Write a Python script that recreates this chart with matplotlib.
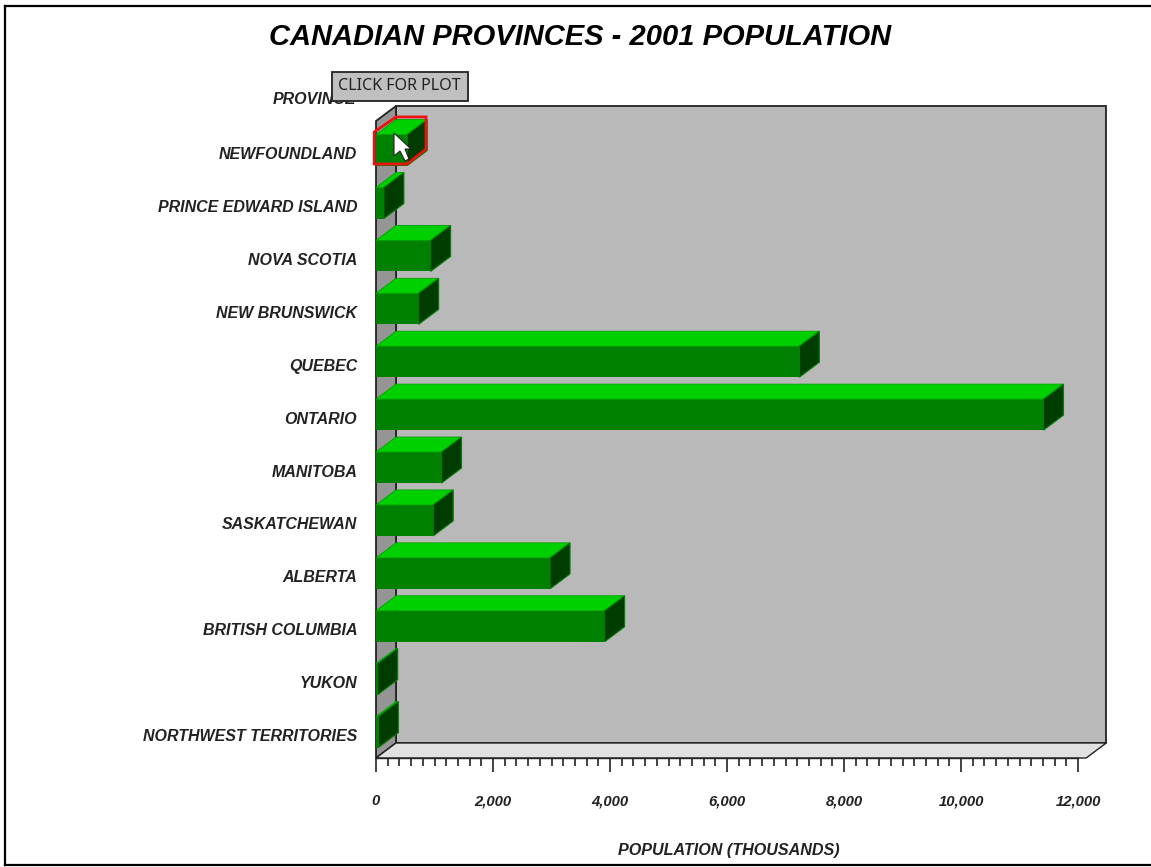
import matplotlib
matplotlib.use('Agg')
import matplotlib.pyplot as plt
from matplotlib.patches import Polygon, Rectangle
from matplotlib.lines import Line2D
from matplotlib.transforms import ScaledTranslation

provinces = ['NEWFOUNDLAND', 'PRINCE EDWARD ISLAND', 'NOVA SCOTIA', 'NEW BRUNSWICK', 'QUEBEC', 'ONTARIO',
             'MANITOBA', 'SASKATCHEWAN', 'ALBERTA', 'BRITISH COLUMBIA', 'YUKON', 'NORTHWEST TERRITORIES']
population = [533, 135, 934, 729, 7237, 11410, 1120, 978, 2975, 3908, 29, 40]
x_ticks = [0, 2000, 4000, 6000, 8000, 10000, 12000]
x_minor = list(range(0, 12200, 200))

W, H = 1151, 867
plt.rcParams['font.family'] = ['Liberation Sans', 'DejaVu Sans']

fig = plt.figure(figsize=(W / 100, H / 100), dpi=100)
ax = fig.add_axes([376 / W, (H - 758) / H, 702 / W, 637 / H])
ax.set_xlim(0, 12000)
ax.set_ylim(11.49, -0.55)

# depth of the fake 3d box, in data units
dx = 20 / (702 / 12000)
dy = 15 / 52.9
bar_h = 31 / 52.9
x_end = 12140
y_top, y_bot = -0.55, 11.49


def poly(pts, face, edge='none', lw=0.0, z=2):
    ax.add_patch(Polygon(pts, closed=True, facecolor=face, edgecolor=edge, linewidth=lw, zorder=z, clip_on=False))


# back wall, left wall, floor
poly([(dx, y_top - dy), (x_end + dx, y_top - dy), (x_end + dx, y_bot - dy), (dx, y_bot - dy)], '#b9b9b9', '#222222', 1.3, 1)
poly([(0, y_top), (dx, y_top - dy), (dx, y_bot - dy), (0, y_bot)], '#959595', '#222222', 1.3, 1)
poly([(0, y_bot), (dx, y_bot - dy), (x_end + dx, y_bot - dy), (x_end, y_bot)], '#e1e1e1', '#222222', 1.0, 1)

for i, v in enumerate(population):
    t, b = i - bar_h / 2, i + bar_h / 2
    ax.barh(i, v, height=bar_h, color='#008000', zorder=3)
    poly([(0, t), (dx, t - dy), (v + dx, t - dy), (v, t)], '#00d000', '#00a000', 0.6, 3)
    poly([(v, t), (v + dx, t - dy), (v + dx, b - dy), (v, b)], '#003c00', '#008000', 0.8, 3)

# red highlight round the first bar
v0 = population[0]
t0, b0 = -bar_h / 2, bar_h / 2
ax.add_patch(Polygon([(-30, t0 - 0.05), (dx, t0 - dy - 0.05), (v0 + dx - 20, t0 - dy - 0.05), (v0 + dx - 20, b0 - dy - 0.03),
                      (v0, b0 - 0.03), (-30, b0 - 0.03)], closed=True, fill=False, edgecolor='#ee1111', linewidth=2,
                     zorder=4, clip_on=False))

for s in ['top', 'left', 'right']:
    ax.spines[s].set_visible(False)
ax.spines['bottom'].set_color('#222222')
ax.spines['bottom'].set_linewidth(1.0)
ax.set_facecolor('none')

ax.set_yticks(range(len(provinces)))
ax.set_yticklabels(provinces, fontsize=11.5, fontweight='bold', fontstyle='italic', color='#222222')
ax.tick_params(axis='y', length=0, pad=13.5)
down = ScaledTranslation(0, -3 / 100, fig.dpi_scale_trans)
for lab in ax.get_yticklabels():
    lab.set_transform(lab.get_transform() + down)

ax.set_xticks(x_ticks)
ax.set_xticklabels(['{:,}'.format(t) for t in x_ticks], fontsize=10.7, fontweight='bold', fontstyle='italic', color='#222222')
ax.set_xticks(x_minor, minor=True)
ax.tick_params(axis='x', which='major', length=10, width=1.2, color='#222222', pad=16)
ax.tick_params(axis='x', which='minor', length=6, width=1.2, color='#222222')

ax.annotate('PROVINCE', xy=(0, -0.96), xycoords='data', xytext=(-14, 0), textcoords='offset points', ha='right', va='center',
            fontsize=11.5, fontweight='bold', fontstyle='italic', color='#222222', annotation_clip=False, zorder=1)

fig.text(580 / W, 1 - 37 / H, 'CANADIAN PROVINCES - 2001 POPULATION', ha='center', va='center',
         fontsize=21, fontweight='bold', fontstyle='italic', color='black')
fig.text(729 / W, 1 - 851 / H, 'POPULATION (THOUSANDS)', ha='center', va='center',
         fontsize=11.6, fontweight='bold', fontstyle='italic', color='#222222')

# button and mouse pointer on top
fig.add_artist(Rectangle((332 / W, 1 - 101 / H), 136 / W, 29 / H, transform=fig.transFigure, facecolor='#c0c0c0',
                         edgecolor='#222222', linewidth=1.3, zorder=10))
fig.text(399 / W, 1 - 86 / H, 'CLICK FOR PLOT', ha='center', va='center', fontsize=11.6, color='#222222',
         family=['Noto Sans', 'DejaVu Sans'], zorder=11)
cursor = [(394, 133), (394, 156), (400, 151), (405, 161), (409, 159), (405, 149), (411, 149)]
fig.add_artist(Polygon([(x / W, 1 - y / H) for x, y in cursor], closed=True, transform=fig.transFigure,
                       facecolor='white', edgecolor='#222222', linewidth=0.8, zorder=12))

# window frame
for xs, ys in [([5, 5], [6, 865]), ([5, 1151], [6, 6]), ([5, 1151], [865, 865])]:
    fig.add_artist(Line2D([x / W for x in xs], [1 - y / H for y in ys], color='black', linewidth=1.6))

fig.savefig('out.png', dpi=100)
